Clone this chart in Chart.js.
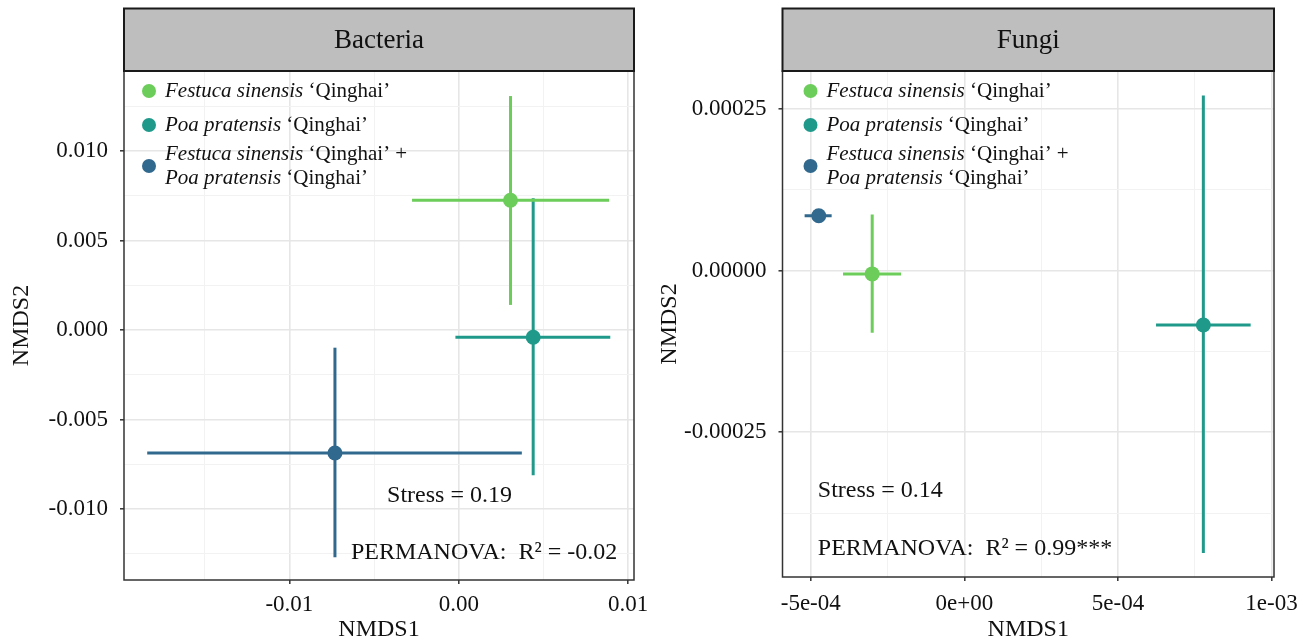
<!DOCTYPE html>
<html>
<head>
<script src="https://cdn.jsdelivr.net/npm/chart.js@4.4.1/dist/chart.umd.min.js"></script>
<style>
    body {
        margin: 0;
        background: #fff;
        width: 1314px;
        height: 644px;
        overflow: hidden;
        position: relative;
    }

    canvas {
        position: absolute;
        top: 0;
    }

    #bac { left: 0; }
    #fun { left: 655px; }
</style>
</head>
<body>
<canvas id="bac" width="660" height="644"></canvas>
<canvas id="fun" width="659" height="644"></canvas>

<script>
    // groups (legend order)
    const legendItalic = [['Festuca sinensis'], ['Poa pratensis'], ['Festuca sinensis', 'Poa pratensis']];
    const cultivar = '‘Qinghai’';
    const groupColors = ['#6ccd5a', '#1f9a8a', '#31688e'];

    // Bacteria: centroid and error bar ends
    const bacX = [0.00305, 0.00439, -0.00731];
    const bacY = [0.00725, -0.00041, -0.00687];
    const bacXLo = [-0.00276, -0.0002, -0.01839];
    const bacXHi = [0.00887, 0.00894, 0.00372];
    const bacYLo = [0.0014, -0.00812, -0.0127];
    const bacYHi = [0.01307, 0.00736, -0.00099];

    // Fungi
    const funX = [-0.0003, 0.000778, -0.000474];
    const funY = [-0.000005, -0.000084, 0.000085];
    const funXLo = [-0.000395, 0.000624, -0.00052];
    const funXHi = [-0.000206, 0.000932, -0.000432];
    const funYLo = [-0.000096, -0.000437, 0.000077];
    const funYHi = [0.000087, 0.000271, 0.000093];

    // ticks
    const bacXTicks = [-0.01, 0, 0.01];
    const bacXLabels = ['-0.01', '0.00', '0.01'];
    const bacXMinor = [-0.015, -0.005, 0.005];
    const bacYTicks = [-0.01, -0.005, 0, 0.005, 0.01];
    const bacYLabels = ['-0.010', '-0.005', '0.000', '0.005', '0.010'];
    const bacYMinor = [-0.0125, -0.0075, -0.0025, 0.0025, 0.0075, 0.0125];

    const funXTicks = [-0.0005, 0, 0.0005, 0.001];
    const funXLabels = ['-5e-04', '0e+00', '5e-04', '1e-03'];
    const funXMinor = [-0.00025, 0.00025, 0.00075];
    const funYTicks = [-0.00025, 0, 0.00025];
    const funYLabels = ['-0.00025', '0.00000', '0.00025'];
    const funYMinor = [-0.000375, -0.000125, 0.000125];

    const serif = "'Liberation Serif', 'DejaVu Serif', serif";

    function isIn(list, v) {
        return list.some(t => Math.abs(t - v) < 1e-9);
    }

    function axis(ticks, labels, minor, min, max, title, extra) {
        return Object.assign({
            type: 'linear',
            min: min,
            max: max,
            afterBuildTicks: s => {
                s.ticks = ticks.concat(minor).sort((a, b) => a - b).map(v => ({ value: v }));
            },
            ticks: {
                autoSkip: false,
                maxRotation: 0,
                color: '#111',
                font: { family: serif, size: 23 },
                callback: v => {
                    const k = ticks.findIndex(t => Math.abs(t - v) < 1e-9);
                    return k < 0 ? '' : labels[k];
                }
            },
            grid: {
                color: c => isIn(ticks, c.tick.value) ? '#e6e6e6' : '#f2f2f2',
                lineWidth: c => isIn(ticks, c.tick.value) ? 1.6 : 1,
                tickColor: c => isIn(ticks, c.tick.value) ? '#333' : 'rgba(0,0,0,0)',
                tickLength: 4,
                tickWidth: 1.5
            },
            border: { display: false },
            title: {
                display: true,
                text: title,
                color: '#111',
                font: { family: serif, size: 24 },
                padding: { top: 0, bottom: 0 }
            }
        }, extra);
    }

    function makePanel(id, p) {
        const datasets = [];
        p.x.forEach((x, i) => {
            datasets.push({
                data: [{ x: x, y: p.y[i] }],
                pointRadius: 7.5,
                pointBackgroundColor: groupColors[i],
                pointBorderWidth: 0,
                order: 1
            });
            datasets.push({
                data: [{ x: p.xLo[i], y: p.y[i] }, { x: p.xHi[i], y: p.y[i] }],
                showLine: true,
                borderColor: groupColors[i],
                borderWidth: 3,
                pointRadius: 0,
                order: 2
            });
            datasets.push({
                data: [{ x: x, y: p.yLo[i] }, { x: x, y: p.yHi[i] }],
                showLine: true,
                borderColor: groupColors[i],
                borderWidth: 3,
                pointRadius: 0,
                order: 2
            });
        });

        const decor = {
            id: 'decor',
            afterDatasetsDraw(chart) {
                const ctx = chart.ctx;
                const xs = chart.scales.x, ys = chart.scales.y;
                ctx.save();
                ctx.fillStyle = '#111';
                ctx.font = '24px ' + serif;
                ctx.textBaseline = 'middle';
                p.notes.forEach(n => {
                    ctx.textAlign = n.align;
                    ctx.fillText(n.text, xs.getPixelForValue(n.x), ys.getPixelForValue(n.y));
                });
                ctx.restore();
            },
            afterDraw(chart) {
                const ctx = chart.ctx;
                const a = chart.chartArea;
                ctx.save();
                // panel border
                ctx.strokeStyle = '#333';
                ctx.lineWidth = 1.5;
                ctx.strokeRect(a.left, a.top, a.right - a.left, a.bottom - a.top);
                // strip
                ctx.fillStyle = '#bebebe';
                ctx.fillRect(a.left, 8.5, a.right - a.left, a.top - 8.5);
                ctx.strokeStyle = '#1a1a1a';
                ctx.lineWidth = 2;
                ctx.strokeRect(a.left, 8.5, a.right - a.left, a.top - 8.5);
                ctx.fillStyle = '#111';
                ctx.font = '27px ' + serif;
                ctx.textAlign = 'center';
                ctx.textBaseline = 'middle';
                ctx.fillText(p.title, (a.left + a.right) / 2, 41);

                // legend
                const rows = [a.top + 20, a.top + 54, a.top + 95];
                const px = a.left + p.legendDx, tx = a.left + p.legendDx + 16;
                ctx.textAlign = 'left';
                legendItalic.forEach((parts, i) => {
                    ctx.fillStyle = groupColors[i];
                    ctx.beginPath();
                    ctx.arc(px, rows[i], 7, 0, Math.PI * 2);
                    ctx.fill();
                    const lines = parts.length === 1 ? [rows[i]] : [rows[i] - 12, rows[i] + 12];
                    parts.forEach((name, j) => {
                        const ly = lines[j];
                        ctx.fillStyle = '#111';
                        ctx.font = 'italic 21px ' + serif;
                        ctx.fillText(name, tx, ly);
                        const w = ctx.measureText(name).width;
                        ctx.font = '21px ' + serif;
                        const tail = ' ' + cultivar + (parts.length > 1 && j === 0 ? ' +' : '');
                        ctx.fillText(tail, tx + w, ly);
                    });
                });
                ctx.restore();
            }
        };

        new Chart(document.getElementById(id).getContext('2d'), {
            type: 'scatter',
            data: { datasets: datasets },
            options: {
                responsive: false,
                animation: false,
                layout: { padding: { top: p.top, right: p.padRight, left: 0, bottom: 0 } },
                plugins: { legend: { display: false }, tooltip: { enabled: false } },
                scales: {
                    x: axis(p.xTicks, p.xLabels, p.xMinor, p.xMin, p.xMax, 'NMDS1', {
                        afterFit: s => { s.height = p.xAxisH; }
                    }),
                    y: axis(p.yTicks, p.yLabels, p.yMinor, p.yMin, p.yMax, 'NMDS2', {
                        afterFit: s => { s.width = p.yAxisW; }
                    })
                }
            },
            plugins: [decor]
        });
        const ch = Chart.getChart(id);
        ch.options.scales.x.ticks.padding = p.xPad;
        ch.options.scales.y.ticks.padding = 12;
        ch.options.scales.y.title.padding = { top: p.yTitlePad, bottom: 0 };
        ch.update();
    }

    makePanel('bac', {
        title: 'Bacteria',
        x: bacX, y: bacY, xLo: bacXLo, xHi: bacXHi, yLo: bacYLo, yHi: bacYHi,
        xTicks: bacXTicks, xLabels: bacXLabels, xMinor: bacXMinor,
        yTicks: bacYTicks, yLabels: bacYLabels, yMinor: bacYMinor,
        xMin: -0.01976, xMax: 0.01034, yMin: -0.01397, yMax: 0.01447,
        top: 71, padRight: 26, xAxisH: 64, yAxisW: 124, xPad: 7, yTitlePad: 7,
        legendDx: 25,
        notes: [
            { text: 'Stress = 0.19', x: -0.00055, y: -0.00926, align: 'center' },
            { text: 'PERMANOVA:  R² = -0.02', x: 0.00149, y: -0.01246, align: 'center' }
        ]
    });

    makePanel('fun', {
        title: 'Fungi',
        x: funX, y: funY, xLo: funXLo, xHi: funXHi, yLo: funYLo, yHi: funYHi,
        xTicks: funXTicks, xLabels: funXLabels, xMinor: funXMinor,
        yTicks: funYTicks, yLabels: funYLabels, yMinor: funYMinor,
        xMin: -0.000592, xMax: 0.001008, yMin: -0.000474, yMax: 0.000309,
        top: 71, padRight: 40, xAxisH: 67, yAxisW: 127.5, xPad: 9, yTitlePad: 0,
        legendDx: 28,
        notes: [
            { text: 'Stress = 0.14', x: -0.000477, y: -0.000341, align: 'left' },
            { text: 'PERMANOVA:  R² = 0.99***', x: -0.000477, y: -0.00043, align: 'left' }
        ]
    });
</script>
</body>
</html>
